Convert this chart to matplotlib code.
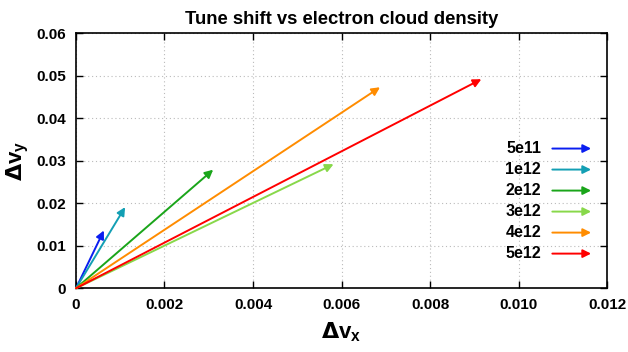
import matplotlib
matplotlib.use("Agg")
import matplotlib.pyplot as plt

# data: arrow tips (tune shift dx, dy) per electron cloud density
labels = ["5e11", "1e12", "2e12", "3e12", "4e12", "5e12"]
dnux = [0.00063, 0.00111, 0.00310, 0.00582, 0.00687, 0.00916]
dnuy = [0.0136, 0.0191, 0.0279, 0.0292, 0.0473, 0.0492]
colors = ["#0a1ef0", "#139fb4", "#1aa51a", "#88d84a", "#ff8c00", "#ff0000"]

xticks = [0, 0.002, 0.004, 0.006, 0.008, 0.010, 0.012]
xticklabels = ["0", "0.002", "0.004", "0.006", "0.008", "0.010", "0.012"]
yticks = [0, 0.01, 0.02, 0.03, 0.04, 0.05, 0.06]
yticklabels = ["0", "0.01", "0.02", "0.03", "0.04", "0.05", "0.06"]

plt.rcParams["font.family"] = ["Liberation Sans", "DejaVu Sans"]
plt.rcParams["font.weight"] = "bold"

fig = plt.figure(figsize=(6.28, 3.52), dpi=100)
ax = fig.add_axes([0.121, 0.181, 0.8456, 0.7244])

arrow_kw = dict(arrowstyle="-|>", lw=1.4, mutation_scale=12, shrinkA=0, shrinkB=0)
for lab, x, y, c in zip(labels, dnux, dnuy, colors):
    ax.annotate("", xy=(x, y), xytext=(0, 0),
                arrowprops=dict(color=c, **arrow_kw))

# gnuplot-style key with arrow samples
for i, (lab, c) in enumerate(zip(labels, colors)):
    yk = 0.548 - i * 0.0824
    ax.text(0.876, yk, lab, transform=ax.transAxes, ha="right", va="center",
            fontsize=11.5, fontweight="bold")
    ax.annotate("", xy=(0.97, yk), xytext=(0.897, yk),
                xycoords="axes fraction", textcoords="axes fraction",
                arrowprops=dict(color=c, **arrow_kw))

ax.set_xlim(0, 0.012)
ax.set_ylim(0, 0.06)
ax.set_xticks(xticks)
ax.set_xticklabels(xticklabels)
ax.set_yticks(yticks)
ax.set_yticklabels(yticklabels)
ax.tick_params(direction="in", top=True, right=True, length=5, width=1,
               labelsize=11, pad=7)
for lbl in ax.get_xticklabels() + ax.get_yticklabels():
    lbl.set_fontweight("bold")
ax.grid(True, linestyle=(0, (1, 2.5)), color="#bbbbbb", lw=0.8)
for s in ax.spines.values():
    s.set_linewidth(1.2)

ax.set_title("Tune shift vs electron cloud density", fontsize=13.3,
             fontweight="bold", pad=7)
ax.set_xlabel(r"$\Delta$v$_\mathregular{x}$", fontsize=16, fontweight="bold",
              labelpad=6)
ax.set_ylabel(r"$\Delta$v$_\mathregular{y}$", fontsize=16, fontweight="bold",
              labelpad=4)

fig.savefig("out.png", dpi=100)
